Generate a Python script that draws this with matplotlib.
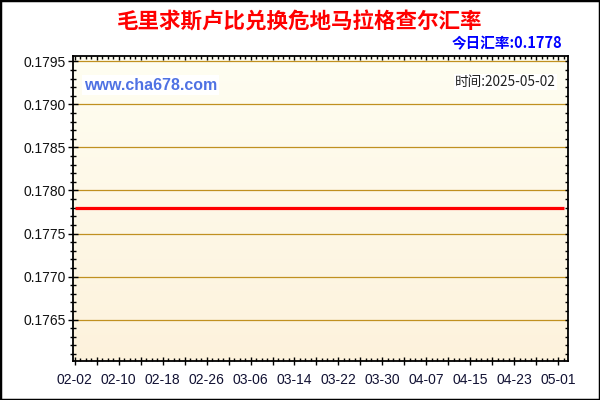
import matplotlib
matplotlib.use("Agg")
import matplotlib.pyplot as plt
import matplotlib.dates as mdates
import matplotlib.ticker as mticker
import numpy as np
import pandas as pd
from matplotlib.patches import Rectangle

plt.rcParams['font.family'] = ['Liberation Sans', 'Noto Sans CJK SC', 'DejaVu Sans']

title = "毛里求斯卢比兑换危地马拉格查尔汇率"
today_label = "今日汇率:0.1778"
site_label = "www.cha678.com"
time_label = "时间:2025-05-02"

dates = pd.date_range("2025-02-02", "2025-05-02", freq="D")
rates = [
    0.1778, 0.1778, 0.1778, 0.1778, 0.1778, 0.1778, 0.1778, 0.1778, 0.1778, 0.1778,
    0.1778, 0.1778, 0.1778, 0.1778, 0.1778, 0.1778, 0.1778, 0.1778, 0.1778, 0.1778,
    0.1778, 0.1778, 0.1778, 0.1778, 0.1778, 0.1778, 0.1778, 0.1778, 0.1778, 0.1778,
    0.1778, 0.1778, 0.1778, 0.1778, 0.1778, 0.1778, 0.1778, 0.1778, 0.1778, 0.1778,
    0.1778, 0.1778, 0.1778, 0.1778, 0.1778, 0.1778, 0.1778, 0.1778, 0.1778, 0.1778,
    0.1778, 0.1778, 0.1778, 0.1778, 0.1778, 0.1778, 0.1778, 0.1778, 0.1778, 0.1778,
    0.1778, 0.1778, 0.1778, 0.1778, 0.1778, 0.1778, 0.1778, 0.1778, 0.1778, 0.1778,
    0.1778, 0.1778, 0.1778, 0.1778, 0.1778, 0.1778, 0.1778, 0.1778, 0.1778, 0.1778,
    0.1778, 0.1778, 0.1778, 0.1778, 0.1778, 0.1778, 0.1778, 0.1778, 0.1778, 0.1778,
]
y_ticks = [0.1765, 0.1770, 0.1775, 0.1780, 0.1785, 0.1790, 0.1795]
x_label_dates = pd.date_range("2025-02-02", "2025-05-01", freq="8D")

fig = plt.figure(figsize=(6, 4), dpi=100)
fig.patch.set_facecolor("white")
ax = fig.add_axes([73.3 / 600, 1 - 361 / 400, (568 - 73.3) / 600, (361 - 55.7) / 400])

x0 = mdates.date2num(dates[0]) - 0.27
x1 = mdates.date2num(dates[0]) + 89.8
ylo, yhi = 0.17602, 0.179565
ax.set_xlim(x0, x1)
ax.set_ylim(ylo, yhi)

# gradient background
grad = np.linspace(0, 1, 256).reshape(-1, 1)
top_c = np.array([255, 254, 242]) / 255
bot_c = np.array([253, 242, 220]) / 255
img = top_c[None, None, :] * (1 - grad[:, :, None]) + bot_c[None, None, :] * grad[:, :, None]
ax.imshow(img, extent=[x0, x1, ylo, yhi], aspect="auto", origin="upper", zorder=0)

# horizontal gridlines
for yt in y_ticks:
    ax.axhline(yt, color="#C09020", lw=0.9, zorder=1)

ax.plot(dates, rates, color="#FF0000", lw=2.3, zorder=3, solid_capstyle="butt")

# y axis (left)
ax.yaxis.set_major_locator(mticker.FixedLocator(y_ticks))
ax.yaxis.set_minor_locator(mticker.MultipleLocator(0.0001))
ax.yaxis.set_major_formatter(mticker.FormatStrFormatter("%.4f"))
ax.tick_params(axis="y", which="major", direction="inout", length=7, width=1,
               labelsize=10, labelcolor="#111111", pad=2)
ax.tick_params(axis="y", which="minor", direction="inout", length=4.5, width=1)

# x axis (bottom)
label_nums = set(np.round(mdates.date2num(x_label_dates), 3))
def fmt(x, pos):
    if np.round(x, 3) in label_nums:
        return mdates.num2date(x).strftime("%m-%d")
    return ""
ax.xaxis.set_major_locator(mticker.FixedLocator(
    mdates.date2num(pd.date_range("2025-02-02", "2025-05-02", freq="4D"))))
ax.xaxis.set_minor_locator(mticker.FixedLocator(mdates.date2num(dates)))
ax.xaxis.set_major_formatter(mticker.FuncFormatter(fmt))
ax.tick_params(axis="x", which="major", direction="inout", length=6, width=1,
               labelsize=10, labelcolor="#111133", pad=6)
ax.tick_params(axis="x", which="minor", direction="in", length=2.5, width=1)

for s in ax.spines.values():
    s.set_linewidth(1.3)
    s.set_color("black")

# right ticks
axr = ax.twinx()
axr.set_ylim(ylo, yhi)
axr.yaxis.set_major_locator(mticker.FixedLocator(y_ticks))
axr.yaxis.set_minor_locator(mticker.MultipleLocator(0.0001))
axr.tick_params(axis="y", which="both", direction="in", length=2.5, width=1, labelright=False)
# top ticks
axt = ax.twiny()
axt.set_xlim(x0, x1)
axt.xaxis.set_major_locator(mticker.FixedLocator(
    mdates.date2num(pd.date_range("2025-02-02", "2025-05-02", freq="4D"))))
axt.xaxis.set_minor_locator(mticker.FixedLocator(mdates.date2num(dates)))
axt.tick_params(axis="x", which="major", direction="in", length=3, width=1, labeltop=False)
axt.tick_params(axis="x", which="minor", direction="in", length=1.8, width=1)
for a in (axr, axt):
    for s in a.spines.values():
        s.set_visible(False)

# texts
fig.text(0.5, 1 - 22 / 400, title, ha="center", va="center", color="#FF0000",
         fontsize=15.5, fontweight="bold", family=["Noto Sans CJK SC", "DejaVu Sans"])
fig.text(562 / 600, 1 - 43 / 400, today_label, ha="right", va="center", color="#0000FF",
         fontsize=10.5, fontweight="bold", family=["Noto Sans CJK SC", "DejaVu Sans"])
fig.text(84 / 600, 1 - 85 / 400, site_label, ha="left", va="center", color="#4F72E3",
         fontsize=11.5, fontweight="bold", family=["Liberation Sans", "DejaVu Sans"],
         bbox=dict(facecolor="white", edgecolor="none", pad=1.5))
fig.text(556 / 600, 1 - 82 / 400, time_label, ha="right", va="center", color="#222222",
         fontsize=9.8, family=["Noto Sans CJK SC", "DejaVu Sans"],
         bbox=dict(facecolor="white", edgecolor="none", pad=1.0))

fig.add_artist(Rectangle((0, 0), 1, 1, transform=fig.transFigure, fill=False,
                         edgecolor="black", lw=2.5, clip_on=False))

fig.savefig("out.png", dpi=100)
